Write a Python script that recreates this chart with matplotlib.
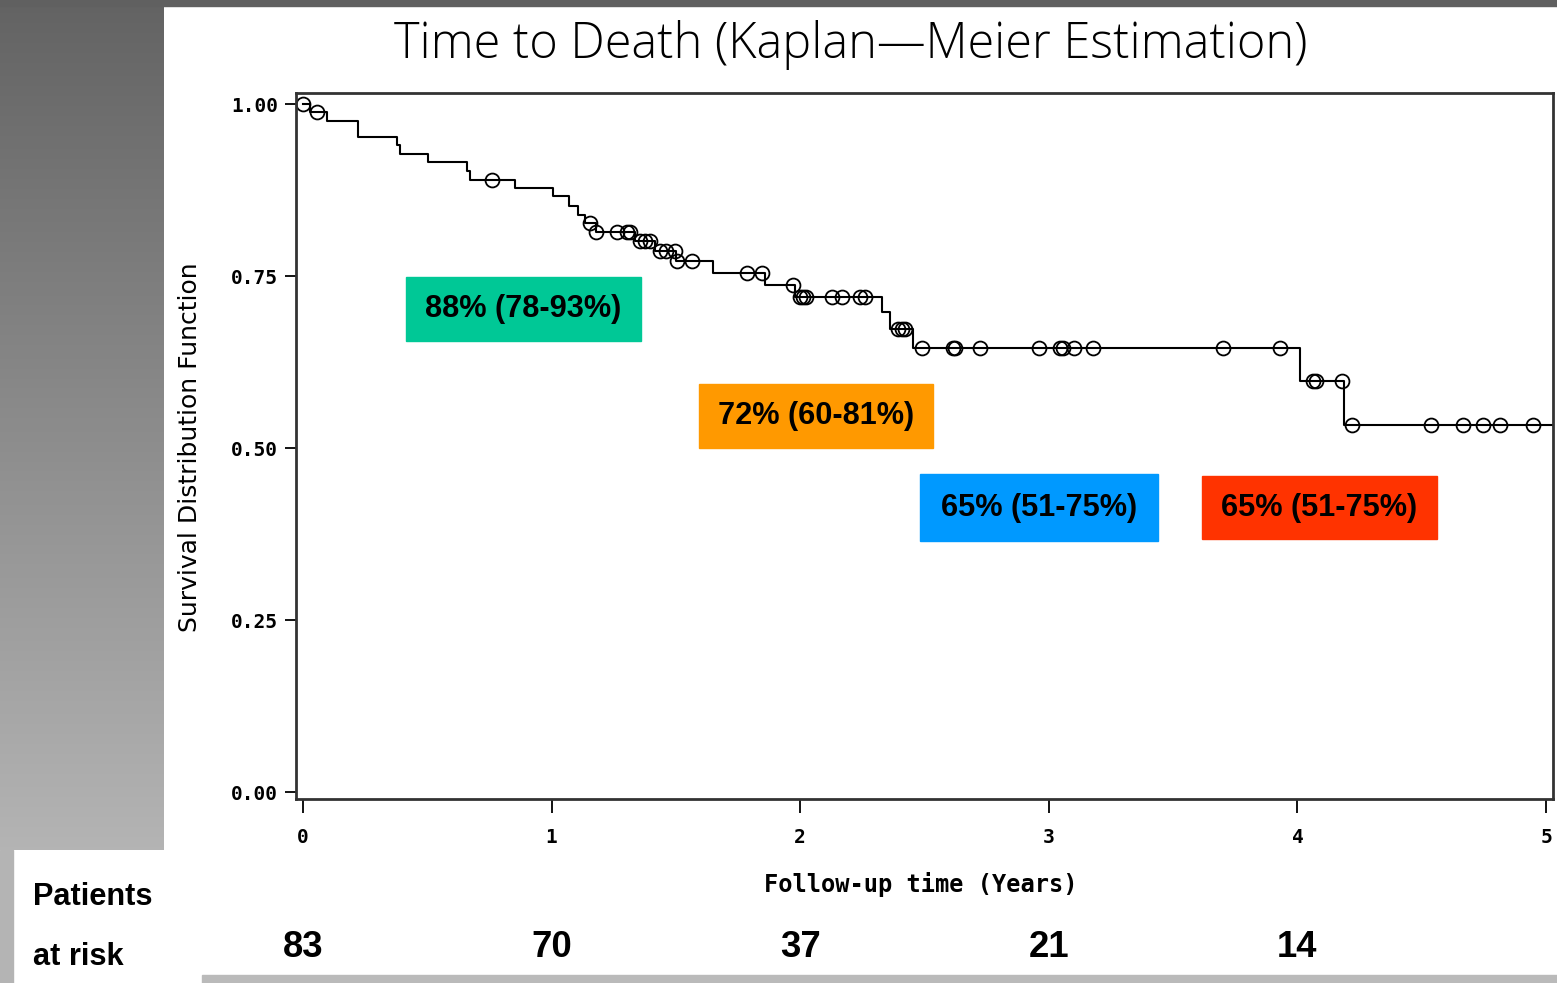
import numpy as np
import matplotlib
matplotlib.use("Agg")
import matplotlib.pyplot as plt
from matplotlib import font_manager
from matplotlib.patches import Rectangle
from matplotlib.colors import LinearSegmentedColormap
from matplotlib.transforms import blended_transform_factory

# Kaplan-Meier steps (years, survival)
step_times = [0.0, 0.03, 0.097, 0.221, 0.378, 0.39, 0.503, 0.660, 0.672, 0.853,
              1.006, 1.070, 1.106, 1.134, 1.179, 1.335, 1.416, 1.50, 1.649, 1.858,
              1.979, 2.329, 2.361, 2.454, 4.010, 4.187]
surv = [1.0, 0.988, 0.976, 0.952, 0.940, 0.927, 0.916, 0.903, 0.890, 0.878,
        0.866, 0.852, 0.839, 0.827, 0.814, 0.801, 0.786, 0.772, 0.754, 0.737,
        0.719, 0.698, 0.673, 0.646, 0.598, 0.533]
max_follow = 5.03

# censored observations (years)
censor_times = [0.0, 0.056, 0.76, 1.155, 1.179, 1.263, 1.303, 1.315, 1.356, 1.376,
                1.396, 1.436, 1.46, 1.496, 1.506, 1.565, 1.786, 1.847, 1.971, 2.0,
                2.012, 2.023, 2.128, 2.168, 2.241, 2.261, 2.393, 2.409, 2.422, 2.490,
                2.615, 2.623, 2.723, 2.961, 3.045, 3.057, 3.101, 3.178, 3.701, 3.930,
                4.063, 4.075, 4.179, 4.220, 4.537, 4.666, 4.747, 4.815, 4.948]

# yearly estimates shown in the coloured boxes
box_labels = ["88% (78-93%)", "72% (60-81%)", "65% (51-75%)", "65% (51-75%)"]
box_colors = ["#00C896", "#FF9900", "#0099FF", "#FF3300"]

# patients at risk
risk_years = [0, 1, 2, 3, 4]
at_risk = [83, 70, 37, 21, 14]

W, H = 1557, 983
names = {f.name for f in font_manager.fontManager.ttflist}
if "Liberation Sans Narrow" in names:
    narrow, nscale = "Liberation Sans Narrow", 1.0
else:
    narrow, nscale = "Liberation Sans", 0.82
title_font = "Open Sans" if "Open Sans" in names else "DejaVu Sans"

fig = plt.figure(figsize=(W / 100, H / 100), dpi=100)
fig.patch.set_facecolor("white")

# slide background bits
bg = fig.add_axes([0, 133 / H, 164 / W, 850 / H])
grad = LinearSegmentedColormap.from_list("g", ["#636363", "#b4b4b4"])
bg.imshow(np.linspace(0, 1, 256).reshape(-1, 1), cmap=grad, aspect="auto")
bg.axis("off")
fig.patches.append(Rectangle((0, 1 - 6 / H), 1, 6 / H, transform=fig.transFigure,
                             color="#606060", zorder=0))
fig.patches.append(Rectangle((0, 0), 13 / W, 133 / H, transform=fig.transFigure,
                             color="#b4b4b4", zorder=0))
fig.patches.append(Rectangle((202 / W, 0), 1 - 202 / W, 8 / H, transform=fig.transFigure,
                             color="#bababa", zorder=0))

ax = fig.add_axes([296 / W, 184 / H, 1257 / W, 706 / H])
ax.set_zorder(2)

t = np.array(step_times + [max_follow])
s = np.array(surv + [surv[-1]])
ax.step(t, s, where="post", color="black", lw=1.5)

ct = np.array(censor_times)
cs = np.array(surv)[np.searchsorted(step_times, ct, side="right") - 1]
ax.plot(ct, cs, "o", ms=10, mfc="none", mec="black", mew=1.3, ls="none")

ax.set_xlim(-0.028, 5.028)
ax.set_ylim(-0.01, 1.016)
ax.set_xticks([0, 1, 2, 3, 4, 5])
ax.set_yticks([0, 0.25, 0.5, 0.75, 1.0])
ax.set_yticklabels(["0.00", "0.25", "0.50", "0.75", "1.00"])
ax.tick_params(axis="y", length=8, width=1.3, pad=5)
ax.tick_params(axis="x", length=10, width=1.3, pad=11)
for lab in ax.get_xticklabels() + ax.get_yticklabels():
    lab.set_fontfamily("DejaVu Sans Mono")
    lab.set_fontweight("bold")
    lab.set_fontsize(14)
for sp in ax.spines.values():
    sp.set_linewidth(2)
    sp.set_color("#333333")

ax.set_xlabel("Follow-up time (Years)", family="DejaVu Sans Mono", weight="bold", fontsize=17)
ax.xaxis.set_label_coords(0.497, -0.103)
ax.set_ylabel("Survival Distribution Function", family="DejaVu Sans", fontsize=18)
ax.yaxis.set_label_coords(-0.075, 0.498)

fig.text(851 / W, 1 - 45 / H, "Time to Death (Kaplan—Meier Estimation)",
         family=title_font, weight="light", fontsize=35, ha="center", va="center")

# coloured boxes (x0, x1, y0, y1 in data units)
box_pos = [(0.414, 1.359, 0.656, 0.749), (1.593, 2.534, 0.500, 0.593),
           (2.482, 3.439, 0.365, 0.462), (3.616, 4.562, 0.368, 0.459)]
for lab, col, (x0, x1, y0, y1) in zip(box_labels, box_colors, box_pos):
    ax.add_patch(Rectangle((x0, y0), x1 - x0, y1 - y0, color=col, zorder=3))
    ax.text((x0 + x1) / 2, (y0 + y1) / 2, lab, ha="center", va="center",
            family=narrow, weight="bold", fontsize=27 * nscale, zorder=4)

tr = blended_transform_factory(ax.transData, fig.transFigure)
for yr, n in zip(risk_years, at_risk):
    fig.text(yr, 0.036, str(n), transform=tr, ha="center", va="center",
             family=narrow, weight="bold", fontsize=32 * nscale)
fig.text(33 / W, 1 - 897 / H, "Patients", ha="left", va="center",
         family=narrow, weight="bold", fontsize=27 * nscale)
fig.text(33 / W, 1 - 957 / H, "at risk", ha="left", va="center",
         family=narrow, weight="bold", fontsize=27 * nscale)

fig.savefig("out.png", dpi=100)
